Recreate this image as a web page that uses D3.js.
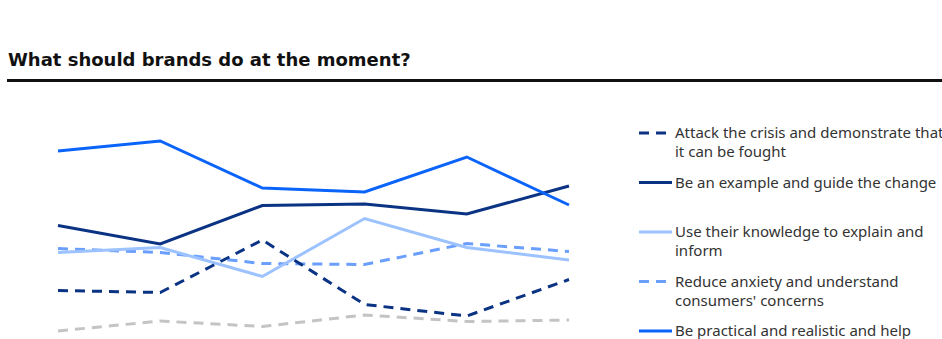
<!DOCTYPE html>
<html>
<head>
<meta charset="utf-8">
<script src="https://cdn.jsdelivr.net/npm/d3@7"></script>
<style>
  body { margin: 0; background: #fff; }
  svg { display: block; }
</style>
</head>
<body>
<div id="chart"></div>
<script>
// Data (share of respondents, %)
var waves = ['W1', 'W2', 'W3', 'W4', 'W5', 'W6']

var attackCrisis = [16.1, 15.7, 26.2, 13.3, 11.0, 18.3]
var beExample = [29.1, 25.4, 33.1, 33.4, 31.4, 37.0]
var explainInform = [23.7, 24.7, 18.9, 30.5, 24.7, 22.2]
var reduceAnxiety = [24.5, 23.7, 21.5, 21.3, 25.5, 23.9]
var bePractical = [44.0, 46.0, 36.6, 35.8, 42.8, 33.2]
var otherSeries = [8.0, 10.0, 8.9, 11.2, 9.9, 10.2]

var seriesNames = [
  'Attack the crisis and demonstrate that it can be fought',
  'Be an example and guide the change',
  'Use their knowledge to explain and inform',
  "Reduce anxiety and understand consumers' concerns",
  'Be practical and realistic and help',
  ''
]

var width = 942
var height = 339
var margin = { top: 121, left: 58, right: 373 }

var svg = d3
  .select('#chart')
  .append('svg')
  .attr('width', width)
  .attr('height', height)

// Title + rule
svg
  .append('text')
  .attr('x', 8)
  .attr('y', 66)
  .style('font-family', '"DejaVu Sans", sans-serif')
  .style('font-weight', 'bold')
  .style('font-size', '18px')
  .style('fill', '#111')
  .text('What should brands do at the moment?')

svg
  .append('line')
  .attr('x1', 7)
  .attr('x2', width)
  .attr('y1', 80.5)
  .attr('y2', 80.5)
  .attr('stroke', '#111')
  .attr('stroke-width', 3)

// Scales
var xPositionScale = d3
  .scalePoint()
  .domain(waves)
  .range([margin.left, width - margin.right])

var yPositionScale = d3
  .scaleLinear()
  .domain([0, 50])
  .range([371, margin.top])

var series = [
  { name: seriesNames[0], values: attackCrisis, color: '#0b3384', dash: '10,7' },
  { name: seriesNames[1], values: beExample, color: '#0b3384', dash: null },
  { name: seriesNames[2], values: explainInform, color: '#9cc2ff', dash: null },
  { name: seriesNames[3], values: reduceAnxiety, color: '#6a9ffd', dash: '10,7' },
  { name: seriesNames[4], values: bePractical, color: '#0a64fa', dash: null },
  { name: seriesNames[5], values: otherSeries, color: '#c4c4c4', dash: '10,7' }
]

var line = d3
  .line()
  .x(function(d, i) {
    return xPositionScale(waves[i])
  })
  .y(function(d) {
    return yPositionScale(d)
  })

// Draw lines (grey first, practical on top)
var drawOrder = [5, 3, 2, 0, 1, 4]
svg
  .append('g')
  .selectAll('path')
  .data(drawOrder.map(i => series[i]))
  .enter()
  .append('path')
  .attr('d', d => line(d.values))
  .attr('fill', 'none')
  .attr('stroke', d => d.color)
  .attr('stroke-width', 3)
  .attr('stroke-dasharray', d => d.dash)

// Legend
var legendLines = [
  ['Attack the crisis and demonstrate that', 'it can be fought'],
  ['Be an example and guide the change'],
  ['Use their knowledge to explain and', 'inform'],
  ['Reduce anxiety and understand', "consumers' concerns"],
  ['Be practical and realistic and help']
]

var legend = svg
  .selectAll('.legend-item')
  .data(series.slice(0, 5))
  .enter()
  .append('g')
  .attr('class', 'legend-item')
  .attr('transform', (d, i) => `translate(639,${133 + i * 49.5})`)

legend
  .append('line')
  .attr('x1', 0)
  .attr('x2', 33)
  .attr('y1', 0)
  .attr('y2', 0)
  .attr('stroke', d => d.color)
  .attr('stroke-width', 3)
  .attr('stroke-dasharray', d => (d.dash ? '10,7' : null))

legend
  .append('text')
  .attr('x', 36)
  .attr('y', 0)
  .style('font-family', '"Noto Sans", sans-serif')
  .style('font-size', '15px')
  .style('fill', '#333')
  .each(function(d, i) {
    var t = d3.select(this)
    legendLines[i].forEach(function(str, j) {
      t.append('tspan')
        .attr('x', 36)
        .attr('dy', j === 0 ? 5 : 19)
        .text(str)
    })
  })
</script>
</body>
</html>
